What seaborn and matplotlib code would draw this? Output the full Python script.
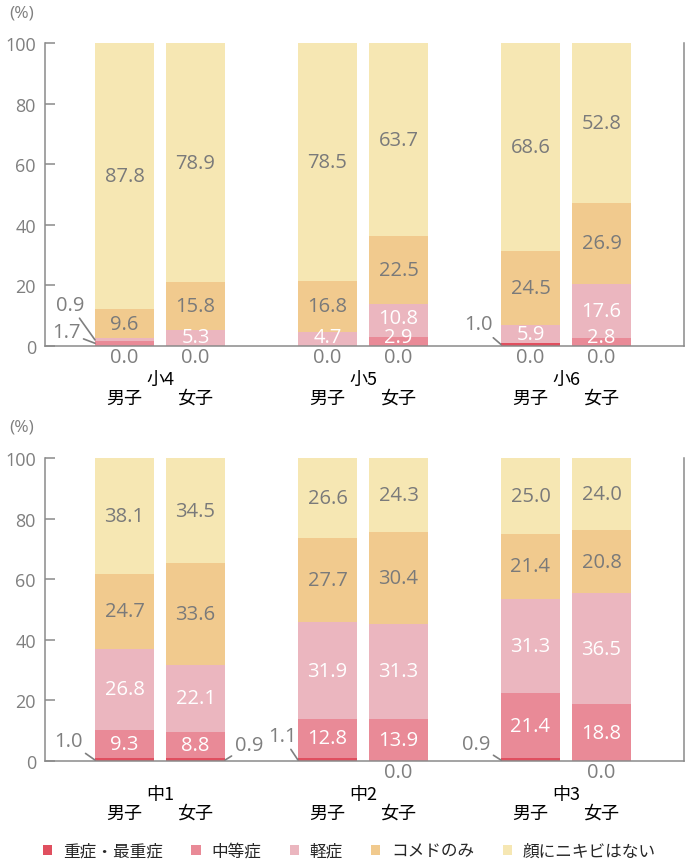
import numpy as np
import pandas as pd
import matplotlib
matplotlib.use("Agg")
import matplotlib.pyplot as plt
from matplotlib.patches import Patch
import seaborn as sns

# ---------------- data ----------------
layers = ["重症・最重症", "中等症", "軽症", "コメドのみ", "顔にニキビはない"]
sexes = ["男子", "女子"]
top_groups = ["小4", "小5", "小6"]
bottom_groups = ["中1", "中2", "中3"]

# order in each list: [g1 男子, g1 女子, g2 男子, g2 女子, g3 男子, g3 女子]
top_severe = [0.0, 0.0, 0.0, 0.0, 1.0, 0.0]
top_moderate = [1.7, 0.0, 0.0, 2.9, 0.0, 2.8]
top_mild = [0.9, 5.3, 4.7, 10.8, 5.9, 17.6]
top_comedo = [9.6, 15.8, 16.8, 22.5, 24.5, 26.9]
top_none = [87.8, 78.9, 78.5, 63.7, 68.6, 52.8]

bot_severe = [1.0, 0.9, 1.1, 0.0, 0.9, 0.0]
bot_moderate = [9.3, 8.8, 12.8, 13.9, 21.4, 18.8]
bot_mild = [26.8, 22.1, 31.9, 31.3, 31.3, 36.5]
bot_comedo = [24.7, 33.6, 27.7, 30.4, 21.4, 20.8]
bot_none = [38.1, 34.5, 26.6, 24.3, 25.0, 24.0]

yticks = [0, 20, 40, 60, 80, 100]

# ---------------- style ----------------
colors = ["#E04F5F", "#E98A97", "#EBB6BF", "#F1CA8E", "#F6E7B3"]
text_colors = ["#7a7a7a", "white", "white", "#7a7a7a", "#7a7a7a"]
GRAY = "#7f7f7f"
SPINE = "#8a8a8a"
NUMFONT = ["Open Sans", "DejaVu Sans"]
CJKFONT = ["Noto Sans CJK JP", "DejaVu Sans"]
NUMSIZE = 14.5
GROUP_STEP = 2.859   # distance between groups (in units of male/female spacing)
BAR_W = 0.831

# leader-line labels: (bar index, layer) -> (edge side, target y, dx px, dy px)
top_leaders = {(0, 2): ("left", 2.0, -25, 35), (0, 1): ("left", 0.9, -29, 11),
               (4, 0): ("left", 0.5, -23, 20)}
bot_leaders = {(0, 0): ("left", 0.3, -27, 19), (1, 0): ("right", 0.3, 24, 15),
               (2, 0): ("left", 0.3, -16, 24), (4, 0): ("left", 0.3, -25, 16)}

sns.set_theme(style="white")
plt.rcParams["font.family"] = CJKFONT

fig = plt.figure(figsize=(6.92, 8.62), dpi=100)
ax_top = fig.add_axes([45 / 692, 1 - 347 / 862, 639 / 692, 303 / 862])
ax_bot = fig.add_axes([45 / 692, 1 - 762 / 862, 639 / 692, 303 / 862])


def draw_panel(ax, groups, series, leaders):
    n = len(groups) * len(sexes)
    xs = [(i // 2) * GROUP_STEP + (i % 2) for i in range(n)]
    vals = np.array(series)  # layers x bars
    cum = np.cumsum(vals, axis=0)
    # draw cumulative bars from the top layer down so lower layers overlay
    for li in range(len(layers) - 1, -1, -1):
        df = pd.DataFrame({"x": xs, "v": cum[li]})
        sns.barplot(data=df, x="x", y="v", native_scale=True, width=BAR_W,
                    color=colors[li], saturation=1, errorbar=None, ax=ax,
                    linewidth=0, edgecolor="none")
    ax.set_xlim(-1.12, 7.88)
    ax.set_ylim(0, 100)
    ax.set_xlabel("")
    ax.set_ylabel("")
    ax.set_yticks(yticks)
    ax.set_yticklabels([str(t) for t in yticks], family=NUMFONT)
    ax.tick_params(axis="y", direction="in", length=7, width=1.1, color=SPINE,
                   labelcolor=GRAY, labelsize=13, pad=6.5, left=True, right=False)
    ax.tick_params(axis="x", bottom=False, labelbottom=False)
    ax.set_xticks([])
    for s in ["left", "bottom", "right"]:
        ax.spines[s].set_visible(True)
        ax.spines[s].set_color(SPINE)
        ax.spines[s].set_linewidth(1.1)
    ax.spines["top"].set_visible(False)
    ax.grid(False)

    for i, x in enumerate(xs):
        bottom = 0.0
        last_y = -10
        has_zero = False
        for li in range(len(layers)):
            v = vals[li, i]
            if v == 0:
                has_zero = True
                continue
            if (i, li) in leaders:
                side, ty, dx, dy = leaders[(i, li)]
                ex = x - BAR_W / 2 if side == "left" else x + BAR_W / 2
                ax.annotate(f"{v:.1f}", xy=(ex, ty), xycoords="data",
                            xytext=(dx, dy), textcoords="offset pixels",
                            ha="center", va="center", fontsize=NUMSIZE, color=GRAY,
                            family=NUMFONT,
                            arrowprops=dict(arrowstyle="-", color=GRAY, lw=1.2,
                                            shrinkA=0, shrinkB=0),
                            annotation_clip=False)
            else:
                y = max(bottom + v / 2, 2.9, last_y + 6.4)
                last_y = y
                ax.text(x, y, f"{v:.1f}", ha="center", va="center",
                        fontsize=NUMSIZE, color=text_colors[li], family=NUMFONT)
            bottom += v
        if has_zero:
            ax.annotate("0.0", xy=(x, 0), xycoords="data", xytext=(0, -11),
                        textcoords="offset pixels", ha="center", va="center",
                        fontsize=NUMSIZE, color=GRAY, family=NUMFONT,
                        annotation_clip=False)
        ax.annotate(sexes[i % 2], xy=(x, 0), xycoords=("data", "axes fraction"),
                    xytext=(0, -52), textcoords="offset pixels", ha="center",
                    va="center", fontsize=13, color="black", annotation_clip=False)
    for g, name in enumerate(groups):
        gx = g * GROUP_STEP + 0.5
        ax.annotate(name, xy=(gx, 0), xycoords=("data", "axes fraction"),
                    xytext=(0, -33), textcoords="offset pixels", ha="center",
                    va="center", fontsize=13, color="black", annotation_clip=False)
    ax.annotate("(%)", xy=(0, 1), xycoords="axes fraction", xytext=(-23, 31),
                textcoords="offset pixels", ha="center", va="center",
                fontsize=12.5, color=GRAY, family=NUMFONT, annotation_clip=False)


draw_panel(ax_top, top_groups,
           [top_severe, top_moderate, top_mild, top_comedo, top_none], top_leaders)
draw_panel(ax_bot, bottom_groups,
           [bot_severe, bot_moderate, bot_mild, bot_comedo, bot_none], bot_leaders)

handles = [Patch(facecolor=c, edgecolor="none") for c in colors]
fig.legend(handles, layers, loc="center", bbox_to_anchor=(0.505, 1 - 852 / 862),
           ncol=5, frameon=False, fontsize=12, handlelength=0.55, handleheight=0.55,
           handletextpad=0.65, columnspacing=1.7, borderpad=0, borderaxespad=0)

fig.savefig("out.png", dpi=100)
